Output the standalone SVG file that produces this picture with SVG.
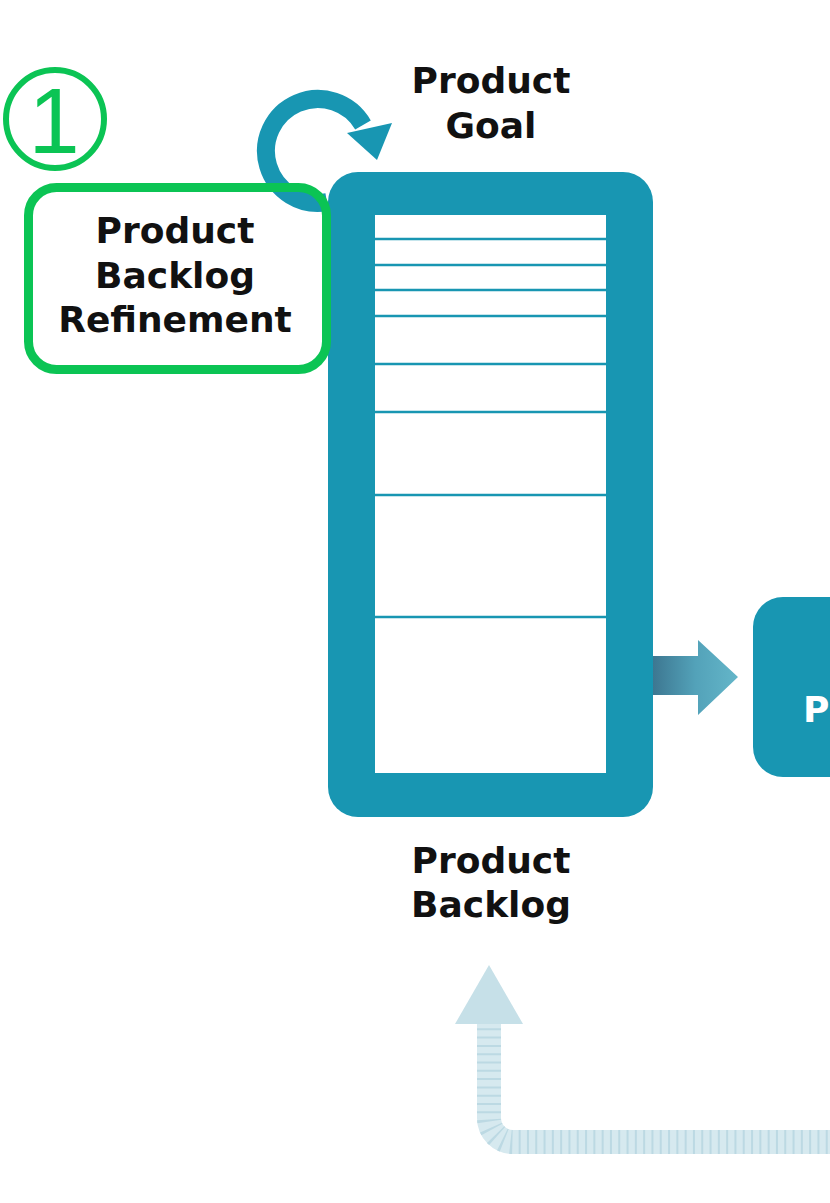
<svg xmlns="http://www.w3.org/2000/svg" width="830" height="1203" viewBox="0 0 830 1203">
<defs>
<style>
.lbl{font-family:"DejaVu Sans","Verdana",sans-serif;font-weight:bold;font-size:36px;fill:#111;text-anchor:middle}
.teal{fill:#1896b2}
.row{stroke:#1896b2;stroke-width:2.5}
.green{fill:none;stroke:#0bc454}
</style>
<linearGradient id="ga" x1="0" y1="0" x2="1" y2="0">
<stop offset="0" stop-color="#3d7791"/>
<stop offset="0.5" stop-color="#53a2b9"/>
<stop offset="1" stop-color="#64b6c9"/>
</linearGradient>
</defs>
<rect width="830" height="1203" fill="#fff"/>

<g id="connectors">
<g id="refine-loop">
<path d="M327 202.2 A52 52 0 1 1 363 125" fill="none" stroke="#1896b2" stroke-width="18"/>
<polygon points="392,123 347,133 377,160" class="teal"/>
</g>
<g id="to-sprint">
<polygon points="653,656 698,656 698,640 738,677 698,715 698,695 653,695" fill="url(#ga)"/>
</g>
<g id="feedback">
<path d="M489 1020 V1118 A24 24 0 0 0 513 1142 H832" fill="none" stroke="#d6e9ef" stroke-width="24"/>
<path d="M489 1020 V1118 A24 24 0 0 0 513 1142 H832" fill="none" stroke="#bcd9e3" stroke-width="24" stroke-dasharray="2 6.3"/>
<polygon points="489,965 455,1024 523,1024" fill="#c6e0e8"/>
</g>
</g>

<g id="product-backlog">
<rect x="328" y="172" width="325" height="645" rx="30" class="teal"/>
<rect x="375" y="215" width="231" height="558" fill="#fff"/>
<line x1="375" y1="239" x2="606" y2="239" class="row"/>
<line x1="375" y1="265" x2="606" y2="265" class="row"/>
<line x1="375" y1="290" x2="606" y2="290" class="row"/>
<line x1="375" y1="316" x2="606" y2="316" class="row"/>
<line x1="375" y1="364" x2="606" y2="364" class="row"/>
<line x1="375" y1="412" x2="606" y2="412" class="row"/>
<line x1="375" y1="495" x2="606" y2="495" class="row"/>
<line x1="375" y1="617" x2="606" y2="617" class="row"/>
<text class="lbl" x="491" y="873">Product</text>
<text class="lbl" x="491" y="917">Backlog</text>
</g>

<g id="product-goal">
<text class="lbl" x="491" y="93">Product</text>
<text class="lbl" x="491" y="138">Goal</text>
</g>

<g id="refinement">
<rect x="28.5" y="187.5" width="298" height="182" rx="28" class="green" stroke-width="9"/>
<text class="lbl" x="175" y="243">Product</text>
<text class="lbl" x="175" y="288">Backlog</text>
<text class="lbl" x="175" y="332">Refinement</text>
</g>

<g id="step-number">
<circle cx="55" cy="119" r="49" class="green" stroke-width="6"/>
<text x="54" y="153" font-family="Liberation Sans, Arial, sans-serif" font-size="92" fill="#0bc454" text-anchor="middle">1</text>
</g>

<g id="next-box">
<rect x="753" y="597" width="120" height="180" rx="30" class="teal"/>
<text x="803" y="722" font-family="DejaVu Sans, Verdana, sans-serif" font-weight="bold" font-size="36" fill="#fff">P</text>
</g>
</svg>
